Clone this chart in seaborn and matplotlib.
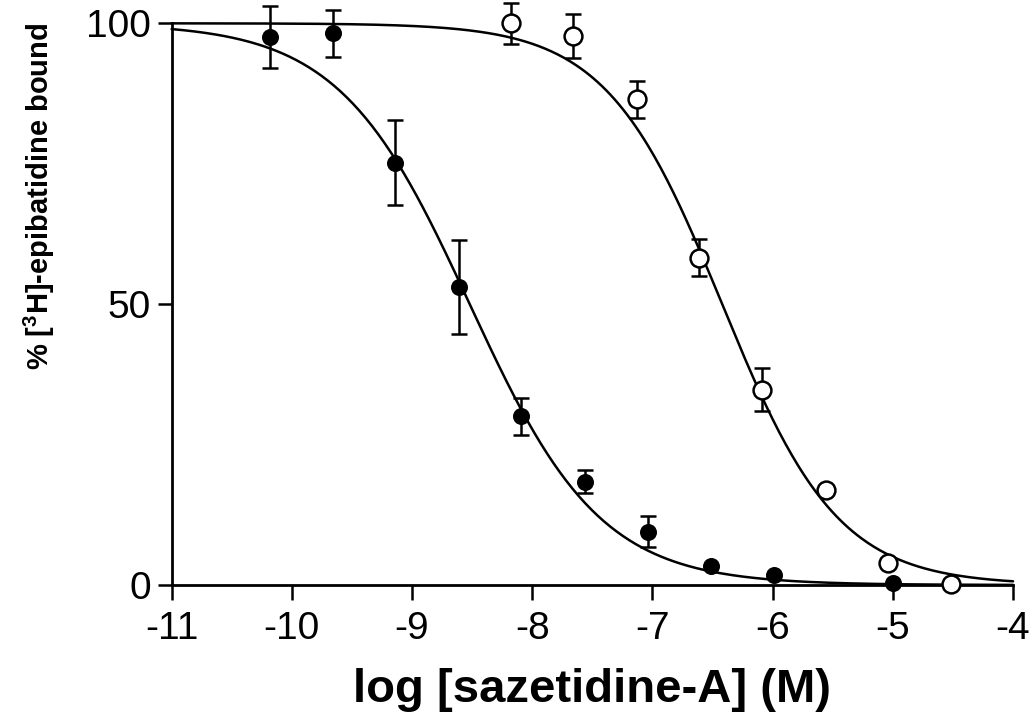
import numpy as np
import pandas as pd
import seaborn as sns
import matplotlib.pyplot as plt

# data (log M, % bound, SEM)
filled_x = [-10.18, -9.66, -9.14, -8.61, -8.09, -7.56, -7.04, -6.51, -5.99, -5.00]
filled_y = [97.6, 98.2, 75.2, 53.1, 30.0, 18.4, 9.5, 3.4, 1.8, 0.3]
filled_err = [5.5, 4.2, 7.5, 8.4, 3.3, 2.0, 2.8, 0, 0, 0]

open_x = [-8.18, -7.66, -7.13, -6.61, -6.09, -5.56, -5.04, -4.52]
open_y = [100.0, 97.7, 86.5, 58.3, 34.8, 17.0, 4.0, 0.2]
open_err = [3.7, 3.9, 3.3, 3.3, 3.8, 0, 0, 0]

# one-site competition fits (logIC50, Hill slope)
filled_fit = (-8.52, 0.80)
open_fit = (-6.42, 0.90)

x_ticks = [-11, -10, -9, -8, -7, -6, -5, -4]
y_ticks = [0, 50, 100]

sns.set_style("ticks")
plt.rcParams['font.family'] = ['Liberation Sans', 'DejaVu Sans']
plt.rcParams['mathtext.default'] = 'regular'
for k in ['text.color', 'axes.labelcolor', 'xtick.color', 'ytick.color', 'axes.edgecolor']:
    plt.rcParams[k] = 'black'


def hill(x, logic50, slope):
    return 100 / (1 + 10 ** ((x - logic50) * slope))


xs = np.linspace(-11, -4, 400)
curves = pd.concat([
    pd.DataFrame({'x': xs, 'y': hill(xs, *filled_fit), 'set': 'filled'}),
    pd.DataFrame({'x': xs, 'y': hill(xs, *open_fit), 'set': 'open'}),
])

fig = plt.figure(figsize=(10.29, 7.26), dpi=100)
ax = fig.add_axes([0.1668, 0.1942, 0.8177, 0.7737])

sns.lineplot(data=curves, x='x', y='y', units='set', estimator=None,
             color='black', lw=1.8, ax=ax, clip_on=False, zorder=2)

for x, y, e in [(filled_x, filled_y, filled_err), (open_x, open_y, open_err)]:
    x, y, e = np.array(x), np.array(y), np.array(e)
    m = e > 0
    ax.errorbar(x[m], y[m], yerr=e[m], fmt='none', ecolor='black',
                elinewidth=1.8, capsize=6, capthick=1.8, zorder=3, clip_on=False)

sns.scatterplot(x=filled_x, y=filled_y, marker='o', s=150, color='black',
                edgecolor='black', linewidth=0, ax=ax, zorder=4, clip_on=False)
sns.scatterplot(x=open_x, y=open_y, marker='o', s=165, color='white',
                edgecolor='black', linewidth=1.8, ax=ax, zorder=4, clip_on=False)

ax.set_xlim(-11, -4)
ax.set_ylim(0, 100)
ax.set_xticks(x_ticks)
ax.set_yticks(y_ticks)
ax.set_xticklabels([str(t) for t in x_ticks], fontsize=28)
ax.set_yticklabels([str(t) for t in y_ticks], fontsize=28)
ax.tick_params(axis='x', length=11, width=1.8, pad=8)
ax.tick_params(axis='y', length=10, width=1.8, pad=5)
sns.despine(ax=ax)
for s in ['left', 'bottom']:
    ax.spines[s].set_linewidth(2.0)

ax.set_xlabel('log [sazetidine-A] (M)', fontsize=34, fontweight='bold')
ax.set_ylabel('% [$^{3}$H]-epibatidine bound', fontsize=21, fontweight='bold')
ax.xaxis.set_label_coords(0.5, -0.148)
ax.yaxis.set_label_coords(-0.136, 0.6925)

fig.savefig('out.png', dpi=100)
